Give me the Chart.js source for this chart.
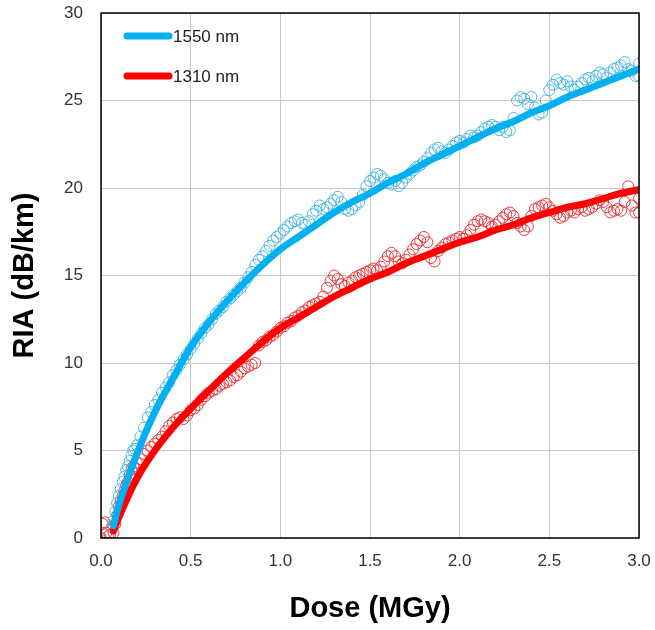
<!DOCTYPE html>
<html>
<head>
<meta charset="utf-8">
<script src="https://cdn.jsdelivr.net/npm/chart.js@4/dist/chart.umd.min.js"></script>
<style>
  html, body { margin: 0; padding: 0; background: #fff; }
</style>
</head>
<body>
<canvas id="chart" width="655" height="630"></canvas>
<script>
// fitted curves
const fitDose = [0.07, 0.1, 0.2, 0.3, 0.4, 0.5, 0.6, 0.7, 0.8, 0.9, 1.0, 1.1, 1.2, 1.3, 1.4, 1.5,
  1.6, 1.7, 1.8, 1.9, 2.0, 2.1, 2.2, 2.3, 2.4, 2.5, 2.6, 2.7, 2.8, 2.9, 3.0];
const fit1550 = [0.7, 1.9, 4.8, 7.2, 9.1, 10.9, 12.3, 13.5, 14.6, 15.6, 16.5, 17.2, 17.9, 18.6, 19.2, 19.7,
  20.3, 20.8, 21.4, 21.9, 22.4, 22.9, 23.4, 23.8, 24.3, 24.7, 25.2, 25.6, 26.0, 26.4, 26.8];
const fit1310 = [0.4, 1.2, 3.4, 5.0, 6.3, 7.4, 8.4, 9.4, 10.3, 11.2, 12.0, 12.6, 13.2, 13.8, 14.3, 14.8,
  15.2, 15.7, 16.1, 16.5, 16.9, 17.2, 17.6, 17.9, 18.3, 18.6, 18.9, 19.1, 19.4, 19.7, 19.9];

// measured points, 1550 nm
const dose1550 = [0.06, 0.07, 0.08, 0.09, 0.10, 0.11, 0.12, 0.13, 0.14, 0.15, 0.16, 0.17, 0.18, 0.19, 0.20,
  0.22, 0.24, 0.26, 0.28, 0.30, 0.32, 0.34, 0.36, 0.38, 0.40, 0.42, 0.44, 0.46, 0.48, 0.50,
  0.52, 0.54, 0.56, 0.58, 0.60, 0.62, 0.64, 0.66, 0.68, 0.70, 0.72, 0.74, 0.76, 0.78, 0.80,
  0.82, 0.84, 0.86, 0.88, 0.90, 0.92, 0.94, 0.96, 0.98, 1.00, 1.02, 1.04, 1.06, 1.08, 1.10,
  1.12, 1.14, 1.16, 1.18, 1.20, 1.22, 1.24, 1.26, 1.28, 1.30, 1.32, 1.34, 1.36, 1.38, 1.40,
  1.42, 1.44, 1.46, 1.48, 1.50, 1.52, 1.54, 1.56, 1.58, 1.60, 1.62, 1.64, 1.66, 1.68, 1.70,
  1.72, 1.74, 1.76, 1.78, 1.80, 1.82, 1.84, 1.86, 1.88, 1.90, 1.92, 1.94, 1.96, 1.98, 2.00,
  2.02, 2.04, 2.06, 2.08, 2.10, 2.12, 2.14, 2.16, 2.18, 2.20, 2.22, 2.24, 2.26, 2.28, 2.30,
  2.32, 2.34, 2.36, 2.38, 2.40, 2.42, 2.44, 2.46, 2.48, 2.50, 2.52, 2.54, 2.56, 2.58, 2.60,
  2.62, 2.64, 2.66, 2.68, 2.70, 2.72, 2.74, 2.76, 2.78, 2.80, 2.82, 2.84, 2.86, 2.88, 2.90,
  2.92, 2.94, 2.96, 2.98, 3.00, 3.00];
const ria1550 = [0.6, 1.0, 1.5, 2.0, 2.4, 2.8, 3.2, 3.5, 3.9, 4.1, 4.4, 4.7, 5.0, 5.1, 5.3,
  5.8, 6.3, 6.9, 7.2, 7.6, 7.9, 8.3, 8.6, 8.9, 9.3, 9.6, 9.9, 10.2, 10.5, 10.8,
  11.1, 11.4, 11.7, 12.0, 12.2, 12.5, 12.8, 13.0, 13.2, 13.5, 13.7, 13.9, 14.1, 14.3, 14.6,
  14.9, 15.2, 15.6, 15.9, 16.1, 16.4, 16.7, 17.0, 17.2, 17.4, 17.6, 17.8, 18.0, 18.1, 18.2,
  18.0, 17.9, 18.1, 18.5, 18.7, 19.0, 18.8, 18.9, 19.1, 19.3, 19.5, 19.2, 18.8, 18.7, 18.8,
  19.0, 19.2, 19.6, 20.1, 20.4, 20.6, 20.8, 20.7, 20.5, 20.3, 20.2, 20.4, 20.1, 20.3, 20.6,
  20.8, 21.0, 21.2, 21.3, 21.5, 21.7, 22.0, 22.2, 22.3, 22.1, 22.0, 22.2, 22.4, 22.6, 22.7,
  22.6, 22.8, 23.0, 22.9, 23.0, 23.2, 23.4, 23.5, 23.6, 23.5, 23.3, 23.5, 23.2, 23.3, 24.0,
  25.0, 25.2, 25.1, 24.8, 25.2, 24.6, 24.2, 24.3, 25.0, 25.6, 25.9, 26.2, 26.0, 25.9, 26.1,
  25.8, 25.6, 25.8, 26.0, 26.2, 26.3, 26.1, 26.4, 26.6, 26.5, 26.3, 26.6, 26.8, 26.9, 27.0,
  27.2, 26.8, 26.7, 26.4, 27.1, 26.4];

// measured points, 1310 nm
const dose1310 = [0.00, 0.01, 0.02, 0.03, 0.04, 0.05, 0.06, 0.07, 0.08, 0.09, 0.10, 0.11, 0.12, 0.13, 0.14,
  0.15, 0.16, 0.17, 0.18, 0.19, 0.20, 0.22, 0.24, 0.26, 0.28, 0.30, 0.32, 0.34, 0.36, 0.38,
  0.40, 0.42, 0.44, 0.46, 0.48, 0.50, 0.52, 0.54, 0.56, 0.58, 0.60, 0.62, 0.64, 0.66, 0.68,
  0.70, 0.72, 0.74, 0.76, 0.78, 0.80, 0.82, 0.84, 0.86, 0.88, 0.90, 0.92, 0.94, 0.96, 0.98,
  1.00, 1.02, 1.04, 1.06, 1.08, 1.10, 1.12, 1.14, 1.16, 1.18, 1.20, 1.22, 1.24, 1.26, 1.28,
  1.30, 1.32, 1.34, 1.36, 1.38, 1.40, 1.42, 1.44, 1.46, 1.48, 1.50, 1.52, 1.54, 1.56, 1.58,
  1.60, 1.62, 1.64, 1.66, 1.68, 1.70, 1.72, 1.74, 1.76, 1.78, 1.80, 1.82, 1.84, 1.86, 1.88,
  1.90, 1.92, 1.94, 1.96, 1.98, 2.00, 2.02, 2.04, 2.06, 2.08, 2.10, 2.12, 2.14, 2.16, 2.18,
  2.20, 2.22, 2.24, 2.26, 2.28, 2.30, 2.32, 2.34, 2.36, 2.38, 2.40, 2.42, 2.44, 2.46, 2.48,
  2.50, 2.52, 2.54, 2.56, 2.58, 2.60, 2.62, 2.64, 2.66, 2.68, 2.70, 2.72, 2.74, 2.76, 2.78,
  2.80, 2.82, 2.84, 2.86, 2.88, 2.90, 2.92, 2.94, 2.96, 2.98, 3.00, 3.00];
const ria1310 = [0.0, 0.8, 0.9, 0.3, 0.1, 0.2, 0.6, 0.3, 0.8, 1.3, 1.8, 2.1, 2.4, 2.7, 3.0,
  3.2, 3.6, 3.9, 4.1, 4.0, 4.3, 4.5, 4.8, 5.0, 5.2, 5.4, 5.6, 5.8, 6.1, 6.4,
  6.6, 6.8, 6.9, 6.8, 7.0, 7.3, 7.4, 7.6, 7.9, 8.1, 8.3, 8.4, 8.5, 8.7, 8.8,
  8.9, 9.0, 9.2, 9.3, 9.5, 9.7, 9.8, 9.9, 10.0, 11.0, 11.2, 11.3, 11.5, 11.6, 11.8,
  12.0, 12.1, 12.3, 12.4, 12.6, 12.7, 12.9, 13.0, 13.2, 13.3, 13.4, 13.5, 13.8, 14.3, 14.7,
  15.0, 14.8, 14.5, 14.4, 14.6, 14.7, 14.9, 15.0, 15.1, 15.2, 15.3, 15.4, 15.3, 15.5, 15.8,
  16.1, 16.3, 16.1, 15.8, 15.7, 15.9, 16.2, 16.5, 16.8, 17.0, 17.2, 16.9, 16.0, 15.8, 16.4,
  16.6, 16.8, 16.9, 17.0, 17.1, 17.2, 17.1, 17.3, 17.6, 17.9, 18.1, 18.2, 18.1, 18.0, 17.8,
  17.9, 18.1, 18.3, 18.5, 18.6, 18.4, 18.0, 17.8, 17.6, 17.8, 18.4, 18.8, 18.9, 19.0, 19.1,
  18.9, 18.7, 18.5, 18.3, 18.4, 18.6, 18.7, 18.6, 18.8, 18.9, 18.7, 18.8, 18.9, 19.1, 19.3,
  19.2, 18.9, 18.6, 18.7, 18.8, 18.7, 19.2, 20.1, 19.0, 18.6, 19.4, 18.6];

const xTicks = [0, 0.5, 1.0, 1.5, 2.0, 2.5, 3.0];
const yTicks = [0, 5, 10, 15, 20, 25, 30];

const toPoints = (xs, ys) => xs.map((x, i) => ({ x: x, y: ys[i] }));

const blueLine = '#00b0f0';
const redLine = '#ff0000';
const fontFamily = '"Liberation Sans", Arial, sans-serif';

// frame round the plot area + legend drawn inside it
const framePlugin = {
  id: 'frame',
  afterDraw(chart) {
    const { ctx, chartArea: a } = chart;
    ctx.save();
    ctx.strokeStyle = '#000';
    ctx.lineWidth = 1.5;
    ctx.strokeRect(a.left, a.top, a.right - a.left, a.bottom - a.top);

    const items = [
      { label: '1550 nm', color: blueLine },
      { label: '1310 nm', color: redLine }
    ];
    ctx.lineCap = 'round';
    ctx.font = '17px ' + fontFamily;
    ctx.textBaseline = 'middle';
    items.forEach((it, i) => {
      const y = a.top + 23 + i * 40;
      ctx.strokeStyle = it.color;
      ctx.lineWidth = 7;
      ctx.beginPath();
      ctx.moveTo(a.left + 26, y);
      ctx.lineTo(a.left + 68, y);
      ctx.stroke();
      ctx.fillStyle = '#222';
      ctx.fillText(it.label, a.left + 72, y + 1);
    });
    ctx.restore();
  }
};

new Chart(document.getElementById('chart'), {
  type: 'scatter',
  data: {
    datasets: [
      {
        label: '1550 nm fit',
        data: toPoints(fitDose, fit1550),
        showLine: true,
        borderColor: blueLine,
        borderWidth: 7,
        borderCapStyle: 'round',
        pointRadius: 0,
        tension: 0.4
      },
      {
        label: '1310 nm fit',
        data: toPoints(fitDose, fit1310),
        showLine: true,
        borderColor: redLine,
        borderWidth: 7,
        borderCapStyle: 'round',
        pointRadius: 0,
        tension: 0.4
      },
      {
        label: '1550 nm',
        data: toPoints(dose1550, ria1550),
        pointRadius: 5.5,
        pointBorderWidth: 1,
        borderColor: '#4db8e2',
        backgroundColor: 'rgba(0,0,0,0)'
      },
      {
        label: '1310 nm',
        data: toPoints(dose1310, ria1310),
        pointRadius: 5.5,
        pointBorderWidth: 1,
        borderColor: '#e8383a',
        backgroundColor: 'rgba(0,0,0,0)'
      }
    ]
  },
  options: {
    responsive: false,
    animation: false,
    layout: { padding: { left: 4, right: 16, top: 13, bottom: 0 } },
    plugins: {
      legend: { display: false },
      tooltip: { enabled: false }
    },
    scales: {
      x: {
        type: 'linear',
        min: 0,
        max: 3,
        afterBuildTicks(scale) { scale.ticks = xTicks.map(v => ({ value: v })); },
        afterFit(scale) {
          scale.height = 92;
          scale.paddingLeft = 0;
          scale.paddingRight = 0;
        },
        grid: { color: '#c8c8c8', lineWidth: 1, drawTicks: false },
        border: { display: false },
        ticks: {
          padding: 13,
          color: '#333',
          font: { family: fontFamily, size: 17 },
          callback: v => v.toFixed(1)
        },
        title: {
          display: true,
          text: 'Dose (MGy)',
          color: '#000',
          font: { family: fontFamily, size: 29, weight: 'bold' },
          padding: { top: 20 }
        }
      },
      y: {
        type: 'linear',
        min: 0,
        max: 30,
        afterBuildTicks(scale) { scale.ticks = yTicks.map(v => ({ value: v })); },
        afterFit(scale) {
          scale.width = 97;
          scale.paddingTop = 0;
          scale.paddingBottom = 0;
        },
        grid: { color: '#c8c8c8', lineWidth: 1, drawTicks: false },
        border: { display: false },
        ticks: {
          padding: 18,
          color: '#333',
          font: { family: fontFamily, size: 17 }
        },
        title: {
          display: true,
          text: 'RIA (dB/km)',
          color: '#000',
          font: { family: fontFamily, size: 29, weight: 'bold' },
          padding: { bottom: 0 }
        }
      }
    }
  },
  plugins: [framePlugin]
});
</script>
</body>
</html>
